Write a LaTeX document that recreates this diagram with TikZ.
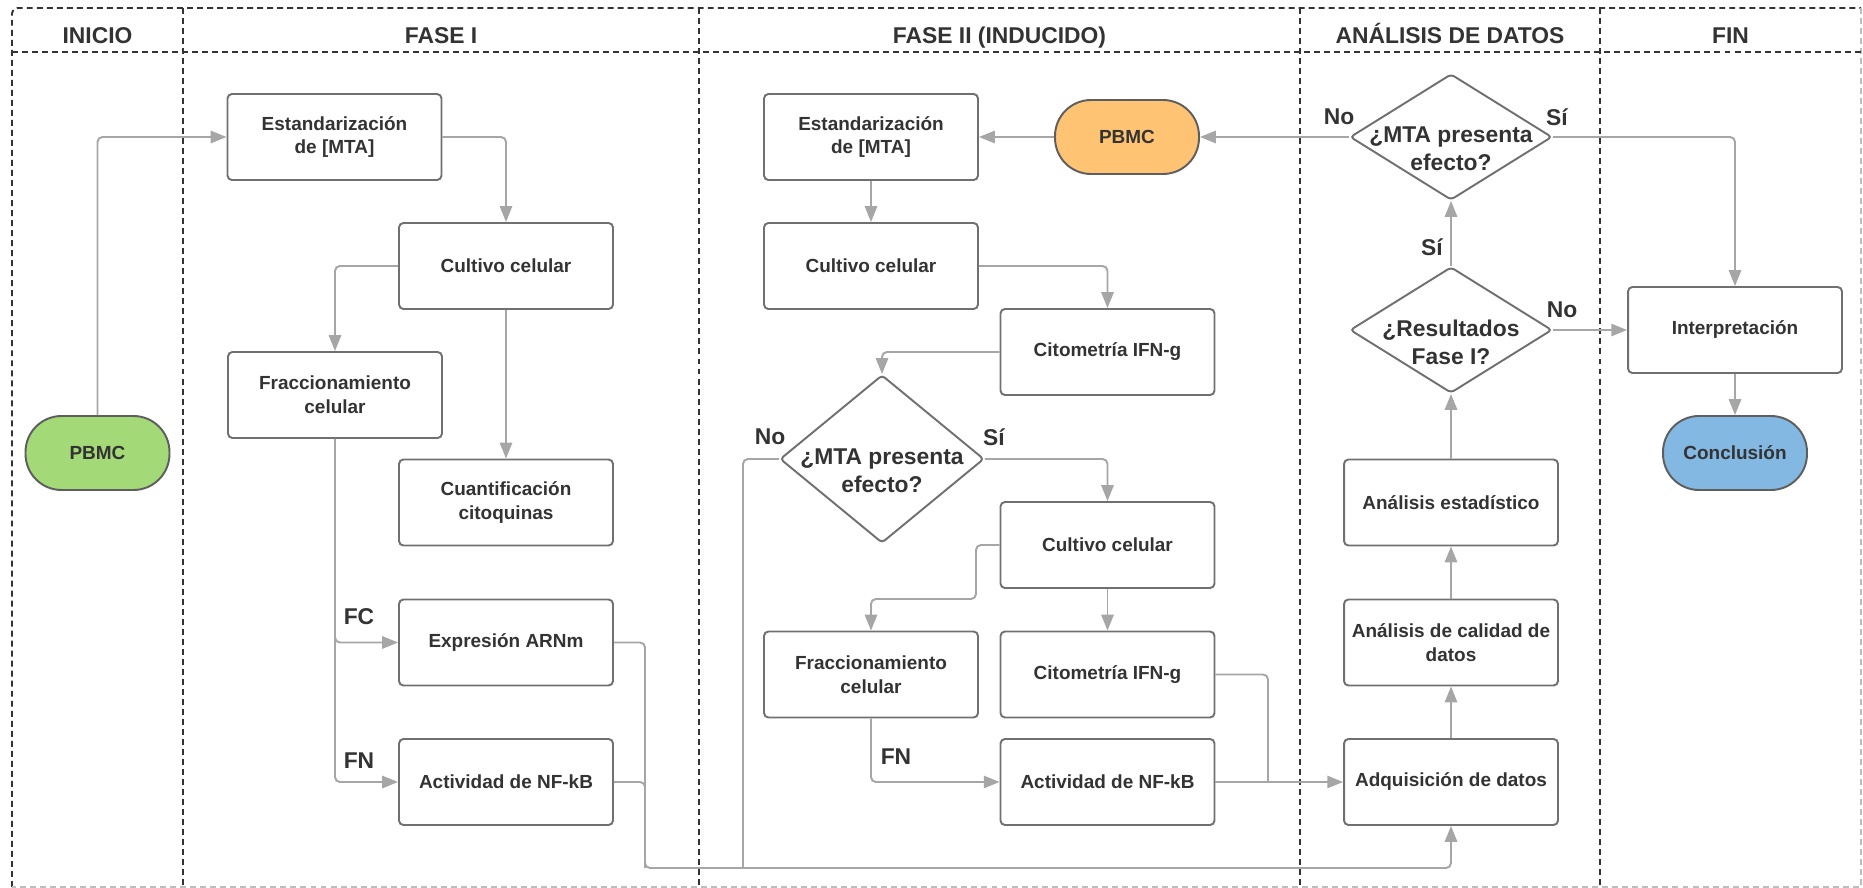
\documentclass[tikz,border=0pt]{standalone}
\usepackage{fontspec}
\setmainfont{Liberation Sans}
\usetikzlibrary{arrows.meta,shapes.geometric}

\definecolor{txt}{HTML}{333333}
\definecolor{wire}{HTML}{A6A6A6}
\definecolor{edge}{HTML}{707070}
\definecolor{termedge}{HTML}{5E5E5E}
\definecolor{lane}{HTML}{333333}
\definecolor{lanelight}{HTML}{BDBDBD}
\definecolor{pbmcgreen}{HTML}{A3D977}
\definecolor{pbmcorange}{HTML}{FFC374}
\definecolor{endblue}{HTML}{83B8E2}

\begin{document}
\begin{tikzpicture}[x=0.02cm, y=-0.02cm,
  font=\fontsize{10.8pt}{13.6pt}\selectfont\bfseries, text=txt,
  proc/.style={draw=edge, line width=1.1pt, rounded corners=2.5pt, fill=white,
    minimum width=4.28cm, minimum height=1.72cm, align=center, inner sep=0pt},
  term/.style={draw=termedge, line width=1.1pt, rounded corners=0.72cm,
    minimum width=2.88cm, minimum height=1.48cm, inner sep=0pt},
  ask/.style={diamond, draw=edge, line width=1.1pt, rounded corners=2pt,
    inner sep=0pt, minimum width=4.04cm, minimum height=2.52cm},
  asktext/.style={font=\fontsize{13pt}{15.9pt}\selectfont\bfseries, align=center},
  tag/.style={font=\fontsize{13pt}{15.6pt}\selectfont\bfseries},
  lanehead/.style={font=\fontsize{13pt}{15.6pt}\selectfont\bfseries, anchor=base},
  flow/.style={draw=wire, line width=1.1pt, rounded corners=2.8pt},
  arr/.style={flow, -{Triangle[length=9pt, width=7pt]}},
  lanerule/.style={draw=lane, line width=1.1pt, dash pattern=on 3.4pt off 2.3pt},
]
\useasboundingbox (0,0) rectangle (1863,888);

% swimlane frame
\draw[lanerule, rounded corners=3pt] (12,887) -- (12,8) -- (1861,8);
\draw[lanerule, draw=lanelight] (1861,8) -- (1861,887) -- (12,887);
\draw[lanerule] (12,52) -- (1861,52);
\foreach \x in {183,699,1300,1600} \draw[lanerule] (\x,8) -- (\x,887);

% lane titles
\node[lanehead] (hInicio) at (97.5,44) {INICIO};
\node[lanehead] (hFase1) at (441,44) {FASE I};
\node[lanehead] (hFase2) at (999.5,44) {FASE II (INDUCIDO)};
\node[lanehead] (hDatos) at (1450,44) {ANÁLISIS DE DATOS};
\node[lanehead] (hFin) at (1730.5,44) {FIN};

% INICIO
\node[term, fill=pbmcgreen] (pbmc1) at (97.5,453) {PBMC};

% FASE I
\node[proc] (est1) at (334.5,137) {Estandarización\\de [MTA]};
\node[proc] (cult1) at (506,266) {Cultivo celular};
\node[proc] (frac1) at (335,395) {Fraccionamiento\\celular};
\node[proc] (cuant) at (506,502.5) {Cuantificación\\citoquinas};
\node[proc] (arnm) at (506,642.5) {Expresión ARNm};
\node[proc] (nfkb1) at (506,782) {Actividad de NF-kB};

% FASE II
\node[proc] (est2) at (871,137) {Estandarización\\de [MTA]};
\node[term, fill=pbmcorange] (pbmc2) at (1127,137) {PBMC};
\node[proc] (cult2) at (871,266) {Cultivo celular};
\node[proc] (cito1) at (1107.5,352) {Citometría IFN-g};
\node[ask, minimum width=4.08cm, minimum height=3.36cm] (ask2) at (882,459) {};
\node[asktext] (ask2t) at (882,471) {¿MTA presenta\\efecto?};
\node[proc] (cult3) at (1107.5,545) {Cultivo celular};
\node[proc] (frac2) at (871,674.5) {Fraccionamiento\\celular};
\node[proc] (cito2) at (1107.5,674.5) {Citometría IFN-g};
\node[proc] (nfkb2) at (1107.5,782) {Actividad de NF-kB};

% ANÁLISIS DE DATOS
\node[ask] (askA) at (1451,137) {};
\node[asktext] (askAt) at (1451,149) {¿MTA presenta\\efecto?};
\node[ask] (askR) at (1451,330) {};
\node[asktext] (askRt) at (1451,342) {¿Resultados\\Fase I?};
\node[proc] (stat) at (1451,502.5) {Análisis estadístico};
\node[proc] (qual) at (1451,642.5) {Análisis de calidad de\\datos};
\node[proc] (acq) at (1451,782) {Adquisición de datos};

% FIN
\node[proc] (interp) at (1735,330) {Interpretación};
\node[term, fill=endblue] (concl) at (1735,453) {Conclusión};

% bend points of the routed connectors
\coordinate (busL) at (645,868);
\coordinate (busNo) at (743,868);
\coordinate (c3bend) at (976,599);
\coordinate (citoJoin) at (1268,782);

% FASE I connectors
\draw[arr] (pbmc1.north) |- (est1.west);
\draw[arr] (est1.east) -| (cult1.north);
\draw[arr] (cult1.west) -| (frac1.north);
\draw[arr] (cult1.south) -- (cuant.north);
\draw[arr] (frac1.south) |- (nfkb1.west);
\draw[arr] (frac1.south) |- (arnm.west);
\node[tag] (fc) at (359,617) {FC};
\node[tag] (fn1) at (359,761) {FN};
\draw[arr] (arnm.east) -| (busL) -| (acq.south);
\draw[flow] (nfkb1.east) -| (busL);

% FASE II connectors
\draw[arr] (askA.west) -- (pbmc2.east);
\draw[arr] (pbmc2.west) -- (est2.east);
\draw[arr] (est2.south) -- (cult2.north);
\draw[arr] (cult2.east) -| (cito1.north);
\draw[arr] (cito1.west) -| (ask2.north);
\draw[flow] (ask2.west) -| (busNo);
\draw[arr] (ask2.east) -| (cult3.north);
\node[tag] (no2) at (770,437) {No};
\node[tag] (si2) at (994,437) {Sí};
\draw[arr] (cult3.west) -| (c3bend) -| (frac2.north);
\draw[arr] (cult3.south) -- (cito2.north);
\draw[arr] (frac2.south) |- (nfkb2.west);
\node[tag] (fn2) at (896,757) {FN};
\draw[flow] (cito2.east) -| (citoJoin);
\draw[arr] (nfkb2.east) -- (acq.west);

% ANÁLISIS DE DATOS and FIN connectors
\draw[arr] (acq.north) -- (qual.south);
\draw[arr] (qual.north) -- (stat.south);
\draw[arr] (stat.north) -- (askR.south);
\draw[arr] (askR.north) -- (askA.south);
\node[tag] (siR) at (1432,247) {Sí};
\draw[arr] (askR.east) -- (interp.west);
\node[tag] (noR) at (1562,310) {No};
\node[tag] (noA) at (1339,117) {No};
\draw[arr] (askA.east) -| (interp.north);
\node[tag] (siA) at (1557,117) {Sí};
\draw[arr] (interp.south) -- (concl.north);
\end{tikzpicture}
\end{document}
